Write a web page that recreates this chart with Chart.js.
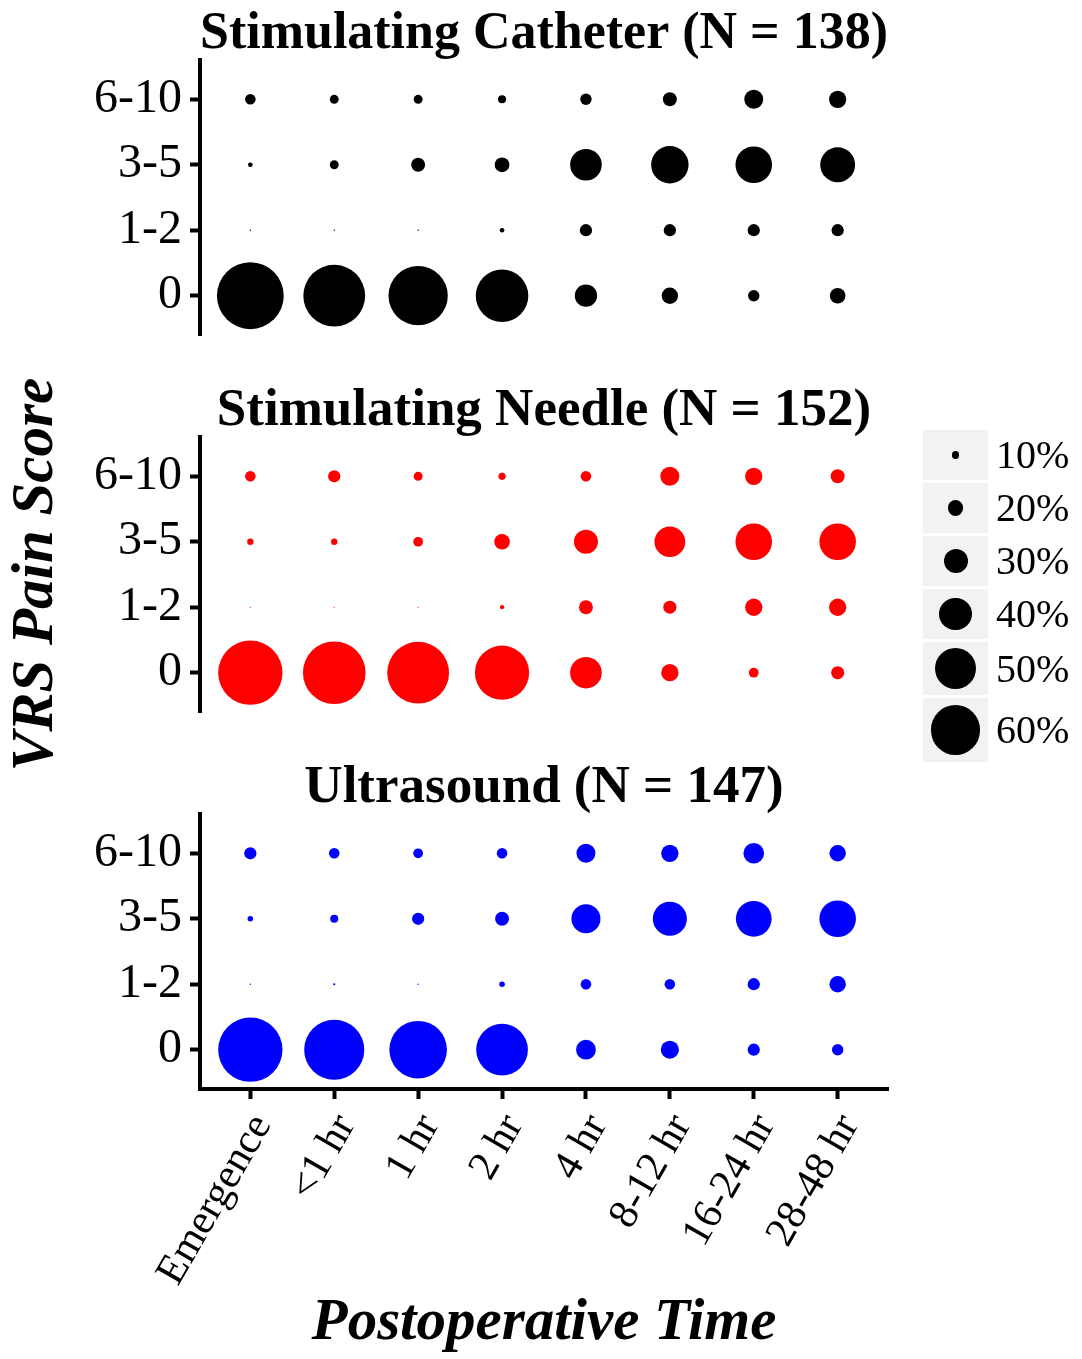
<!DOCTYPE html>
<html>
<head>
<meta charset="utf-8">
<script src="https://cdn.jsdelivr.net/npm/chart.js@4.4.1/dist/chart.umd.min.js"></script>
<style>
  html, body { margin: 0; padding: 0; background: #fff; }
  #page { position: relative; width: 1082px; height: 1359px; overflow: hidden; font-family: 'Liberation Serif', 'Times New Roman', serif; }
  canvas { position: absolute; left: 0; }
  #legend { position: absolute; left: 923px; top: 430px; }
  .key { display: flex; align-items: center; margin-bottom: 3px; }
  .swatch { width: 65px; background: #f2f2f2; display: flex; align-items: center; justify-content: center; }
  .dot { background: #000; border-radius: 50%; }
  .lab { font-size: 40px; margin-left: 8px; line-height: 1; color: #000; }
</style>
</head>
<body>
<div id="page">
  <canvas id="catheter_canvas" style="top:0px" width="1082" height="400"></canvas>
  <canvas id="needle_canvas" style="top:377px" width="1082" height="400"></canvas>
  <canvas id="ultrasound_canvas" style="top:754px" width="1082" height="605"></canvas>
  <div id="legend"></div>
</div>
<script>
var painLevels = ['0', '1-2', '3-5', '6-10'];
var timePoints = ['Emergence', '<1 hr', '1 hr', '2 hr', '4 hr', '8-12 hr', '16-24 hr', '28-48 hr'];
var legendPct = [10, 20, 30, 40, 50, 60];

// percent of patients, one row per pain level (0, 1-2, 3-5, 6-10)
var catheterPct = [
    [81, 75, 72, 64, 28, 21, 15, 20],
    [3, 3, 3, 7, 16, 16, 16, 16],
    [7, 12, 18, 19, 39, 46, 45, 43],
    [14, 12, 12, 11, 15, 18, 24, 22]
];
var needlePct = [
    [78, 76, 75, 66, 39, 22, 13, 17],
    [2.5, 2.5, 2.5, 6.5, 18, 17, 22, 22],
    [9, 9, 13, 20, 30, 38, 45, 45],
    [14, 16, 12, 10, 14, 24, 22, 18]
];
var ultrasoundPct = [
    [78, 73, 70, 63, 25, 23, 16, 15],
    [3, 4, 3, 8, 14, 14, 16, 21],
    [8, 11, 16, 18, 36, 42, 44, 45],
    [16, 14, 13, 14, 24, 22, 26, 21]
];

Chart.defaults.font.family = "'Liberation Serif', 'Times New Roman', serif";
Chart.defaults.color = '#000';

function radiusOf(pct) {
    return Math.max(0.6, 0.42 * pct - 0.6);
}

function bubbles(rows) {
    var pts = [];
    rows.forEach(function (row, j) {
        row.forEach(function (p, i) {
            pts.push({x: i, y: j, r: radiusOf(p)});
        });
    });
    return pts;
}

function makePanel(canvasId, title, rows, color, opts) {
    var canvas = document.getElementById(canvasId);
    return new Chart(canvas, {
        type: 'bubble',
        data: {
            datasets: [{
                data: bubbles(rows),
                backgroundColor: color,
                borderWidth: 0,
                hoverRadius: 0,
                xAxisID: 'x',
                yAxisID: 'y'
            }]
        },
        options: {
            responsive: false,
            animation: false,
            events: [],
            layout: {
                padding: {left: 0, right: 194, top: 0, bottom: opts.bottomPad}
            },
            plugins: {
                legend: {display: false},
                tooltip: {enabled: false}
            },
            scales: {
                x: {
                    type: 'linear',
                    position: 'bottom',
                    min: -0.6,
                    max: 7.6,
                    display: opts.showX,
                    afterBuildTicks: function (s) {
                        s.ticks = timePoints.map(function (_, i) { return {value: i}; });
                    },
                    ticks: {
                        autoSkip: false,
                        callback: function (v) { return timePoints[v]; },
                        font: {size: 42},
                        minRotation: 60,
                        maxRotation: 60,
                        padding: 7,
                        labelOffset: 12
                    },
                    grid: {
                        drawOnChartArea: false,
                        tickLength: 10,
                        tickWidth: 4,
                        color: '#000'
                    },
                    border: {display: true, width: 4, color: '#000'},
                    title: {
                        display: true,
                        text: 'Postoperative Time',
                        font: {size: 59, weight: 'bold', style: 'italic', lineHeight: 1.2},
                        padding: 0
                    },
                    afterFit: function (s) {
                        s.height = opts.showX ? 270 : 0;
                        s.paddingLeft = 0;
                        s.paddingRight = 0;
                    }
                },
                top: {
                    type: 'linear',
                    position: 'top',
                    min: -0.6,
                    max: 7.6,
                    grid: {display: false, drawTicks: false},
                    border: {display: false},
                    ticks: {display: false},
                    title: {
                        display: true,
                        text: title,
                        font: {size: 53, weight: 'bold', lineHeight: 1},
                        padding: {top: 8, bottom: 0}
                    },
                    afterFit: function (s) {
                        s.height = 60;
                        s.paddingLeft = 0;
                        s.paddingRight = 0;
                    }
                },
                y: {
                    type: 'linear',
                    min: -0.6,
                    max: 3.6,
                    afterBuildTicks: function (s) {
                        s.ticks = painLevels.map(function (_, j) { return {value: j}; });
                    },
                    ticks: {
                        callback: function (v) { return painLevels[v]; },
                        font: {size: 48},
                        padding: 8
                    },
                    grid: {
                        drawOnChartArea: false,
                        tickLength: 10,
                        tickWidth: 4,
                        color: '#000'
                    },
                    border: {display: true, width: 4, color: '#000'},
                    title: {
                        display: opts.showYTitle,
                        text: 'VRS Pain Score',
                        font: {size: 59, weight: 'bold', style: 'italic', lineHeight: 1.2},
                        padding: {top: 1, bottom: 0}
                    },
                    afterFit: function (s) {
                        s.width = 200;
                        s.paddingTop = 0;
                        s.paddingBottom = 0;
                    }
                }
            }
        }
    });
}

makePanel('catheter_canvas', 'Stimulating Catheter (N = 138)', catheterPct, '#000000',
    {showX: false, showYTitle: false, bottomPad: 65});
makePanel('needle_canvas', 'Stimulating Needle (N = 152)', needlePct, '#ff0000',
    {showX: false, showYTitle: true, bottomPad: 65});
makePanel('ultrasound_canvas', 'Ultrasound (N = 147)', ultrasoundPct, '#0000ff',
    {showX: true, showYTitle: false, bottomPad: 0});

// size legend, same radius mapping as the bubbles
var legend = document.getElementById('legend');
legendPct.forEach(function (p) {
    var d = 2 * radiusOf(p);
    var key = document.createElement('div');
    key.className = 'key';
    var swatch = document.createElement('div');
    swatch.className = 'swatch';
    swatch.style.height = Math.max(50, Math.round(1.3 * d)) + 'px';
    var dot = document.createElement('div');
    dot.className = 'dot';
    dot.style.width = d + 'px';
    dot.style.height = d + 'px';
    swatch.appendChild(dot);
    var lab = document.createElement('div');
    lab.className = 'lab';
    lab.textContent = p + '%';
    key.appendChild(swatch);
    key.appendChild(lab);
    legend.appendChild(key);
});
</script>
</body>
</html>
